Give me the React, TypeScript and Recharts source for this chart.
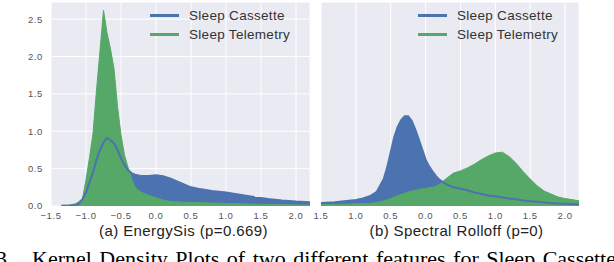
import { ComposedChart, Area, Line, XAxis, YAxis, CartesianGrid, Legend } from "recharts";

const seriesNames = ["Sleep Cassette", "Sleep Telemetry"];

// (a) EnergySis
const energyX = [-1.35, -1.25, -1.15, -1.1, -1.05, -1.0, -0.95, -0.9, -0.85, -0.8, -0.75, -0.7, -0.65, -0.6, -0.55, -0.5, -0.45, -0.4, -0.35, -0.3, -0.25, -0.2, -0.1, 0.0, 0.1, 0.2, 0.3, 0.4, 0.5, 0.6, 0.8, 1.0, 1.2, 1.4, 1.6, 1.8, 2.0, 2.2];
const energyCassette = [0.005, 0.005, 0.01, 0.03, 0.09, 0.18, 0.32, 0.45, 0.62, 0.75, 0.85, 0.91, 0.88, 0.84, 0.75, 0.64, 0.55, 0.48, 0.44, 0.42, 0.41, 0.4, 0.4, 0.41, 0.4, 0.37, 0.33, 0.29, 0.25, 0.23, 0.2, 0.18, 0.15, 0.12, 0.095, 0.075, 0.06, 0.05];
const energyTelemetry = [0.01, 0.01, 0.03, 0.06, 0.1, 0.35, 0.65, 0.97, 1.55, 2.08, 2.62, 2.32, 2.1, 1.84, 1.33, 0.95, 0.68, 0.52, 0.37, 0.25, 0.21, 0.18, 0.14, 0.11, 0.08, 0.06, 0.055, 0.05, 0.047, 0.045, 0.04, 0.035, 0.03, 0.025, 0.02, 0.018, 0.015, 0.012];

// (b) Spectral Rolloff
const rolloffX = [-1.5, -1.3, -1.1, -1.0, -0.9, -0.8, -0.7, -0.6, -0.55, -0.5, -0.45, -0.4, -0.35, -0.3, -0.25, -0.2, -0.15, -0.1, -0.05, 0.0, 0.05, 0.1, 0.15, 0.2, 0.25, 0.3, 0.4, 0.5, 0.6, 0.7, 0.8, 0.9, 1.0, 1.1, 1.2, 1.3, 1.4, 1.5, 1.6, 1.7, 1.8, 1.9, 2.0, 2.2];
const rolloffCassette = [0.04, 0.05, 0.07, 0.08, 0.1, 0.13, 0.19, 0.36, 0.52, 0.72, 0.92, 1.06, 1.15, 1.2, 1.2, 1.14, 1.03, 0.9, 0.76, 0.62, 0.53, 0.46, 0.4, 0.35, 0.32, 0.29, 0.25, 0.23, 0.21, 0.18, 0.16, 0.14, 0.13, 0.115, 0.1, 0.09, 0.075, 0.065, 0.056, 0.048, 0.04, 0.035, 0.03, 0.02];
const rolloffTelemetry = [0.02, 0.02, 0.025, 0.03, 0.03, 0.035, 0.045, 0.07, 0.085, 0.1, 0.12, 0.14, 0.155, 0.17, 0.185, 0.2, 0.21, 0.22, 0.23, 0.235, 0.245, 0.25, 0.265, 0.29, 0.33, 0.37, 0.44, 0.47, 0.51, 0.56, 0.62, 0.67, 0.71, 0.72, 0.66, 0.57, 0.46, 0.36, 0.27, 0.2, 0.16, 0.12, 0.1, 0.07];

const xTicks = [-1.5, -1.0, -0.5, 0.0, 0.5, 1.0, 1.5, 2.0];
const energyTickLabels = ["\u22121.5", "\u22121.0", "\u22120.5", "0.0", "0.5", "1.0", "1.5", "2.0"];
const rolloffTickLabels = ["1.5", "1.0", "0.5", "0.0", "0.5", "1.0", "1.5", "2.0"];
const yTicks = [0, 0.5, 1.0, 1.5, 2.0, 2.5];
const yTickLabels = ["0.0", "0.5", "1.0", "1.5", "2.0", "2.5"];

const BLUE = "#4C72B0";
const GREEN = "#55A868";
const FONT = "'Liberation Sans', Arial, sans-serif";
const SERIF = "'Liberation Serif', serif";

const tickStyle = { fill: "#555", fontSize: 9.5, fontFamily: FONT, letterSpacing: 0.6 };

const build = (xs: number[], a: number[], b: number[]) =>
  xs.map((x, i) => ({ x, cassette: a[i], telemetry: b[i] }));

const energyData = build(energyX, energyCassette, energyTelemetry);
const rolloffData = build(rolloffX, rolloffCassette, rolloffTelemetry);

function KdeLegend() {
  const colors = [BLUE, GREEN];
  return (
    <div>
      {seriesNames.map((name, i) => (
        <div key={name} style={{ display: "flex", alignItems: "center", height: 19 }}>
          <div style={{ width: 29, height: 2.5, background: colors[i], marginRight: 10 }} />
          <span style={{ fontFamily: FONT, fontSize: 13.5, color: "#333", letterSpacing: 0.3, whiteSpace: "nowrap" }}>
            {name}
          </span>
        </div>
      ))}
    </div>
  );
}

function Panel(props: {
  data: { x: number; cassette: number; telemetry: number }[];
  labels: string[];
  showY: boolean;
  width: number;
  marginLeft: number;
  legendLeft: number;
}) {
  const { data, labels, showY, width, marginLeft, legendLeft } = props;
  return (
    <ComposedChart width={width} height={230} data={data} margin={{ top: 2, right: 2, bottom: 0, left: marginLeft }}>
      <CartesianGrid fill="#EAEAF2" stroke="#fff" strokeWidth={1} />
      <XAxis
        dataKey="x"
        type="number"
        domain={[-1.5, 2.2]}
        ticks={xTicks}
        tickFormatter={(v: number) => labels[xTicks.indexOf(v)] ?? ""}
        allowDataOverflow
        axisLine={false}
        tickLine={false}
        tickMargin={0}
        height={24}
        interval={0}
        tick={tickStyle}
      />
      <YAxis
        type="number"
        domain={[0, 2.73]}
        ticks={yTicks}
        tickFormatter={(v: number) => yTickLabels[yTicks.indexOf(v)] ?? ""}
        allowDataOverflow
        axisLine={false}
        tickLine={false}
        width={showY ? 51 : 0}
        tick={showY ? tickStyle : false}
        interval={0}
      />
      <Legend
        layout="vertical"
        align="center"
        verticalAlign="middle"
        content={() => <KdeLegend />}
        wrapperStyle={{ left: legendLeft, top: 6, width: 160, height: 40 }}
      />
      <Area type="linear" dataKey="cassette" stroke="none" fill={BLUE} fillOpacity={1} isAnimationActive={false} />
      <Area type="linear" dataKey="telemetry" stroke={GREEN} strokeWidth={1} fill={GREEN} fillOpacity={1} isAnimationActive={false} />
      <Line type="linear" dataKey="cassette" stroke={BLUE} strokeWidth={2} dot={false} isAnimationActive={false} legendType="none" />
    </ComposedChart>
  );
}

export default function App() {
  const subStyle = {
    position: "absolute" as const,
    top: 223,
    fontFamily: FONT,
    fontSize: 15,
    lineHeight: "15px",
    letterSpacing: 0.4,
    color: "#222",
    whiteSpace: "nowrap" as const,
    transform: "translateX(-50%)",
  };
  const captionStyle = {
    position: "absolute" as const,
    top: 248,
    fontFamily: SERIF,
    fontSize: 22,
    lineHeight: "22px",
    wordSpacing: 2,
    whiteSpace: "nowrap" as const,
    color: "#000",
  };
  return (
    <div style={{ position: "absolute", left: 0, top: 0, width: 614, height: 262, overflow: "hidden", background: "#fff" }}>
      <div style={{ position: "absolute", left: 0, top: 0 }}>
        <Panel data={energyData} labels={energyTickLabels} showY width={312} marginLeft={0} legendLeft={150} />
      </div>
      <div style={{ position: "absolute", left: 311, top: 0 }}>
        <Panel data={rolloffData} labels={rolloffTickLabels} showY={false} width={270} marginLeft={10} legendLeft={107} />
      </div>
      <div style={{ ...subStyle, left: 183.5 }}>(a) EnergySis (p=0.669)</div>
      <div style={{ ...subStyle, left: 456.5 }}>(b) Spectral Rolloff (p=0)</div>
      <div style={{ ...captionStyle, left: -4 }}>3.</div>
      <div style={{ ...captionStyle, left: 32 }}>Kernel Density Plots of two different features for Sleep Cassette</div>
    </div>
  );
}
